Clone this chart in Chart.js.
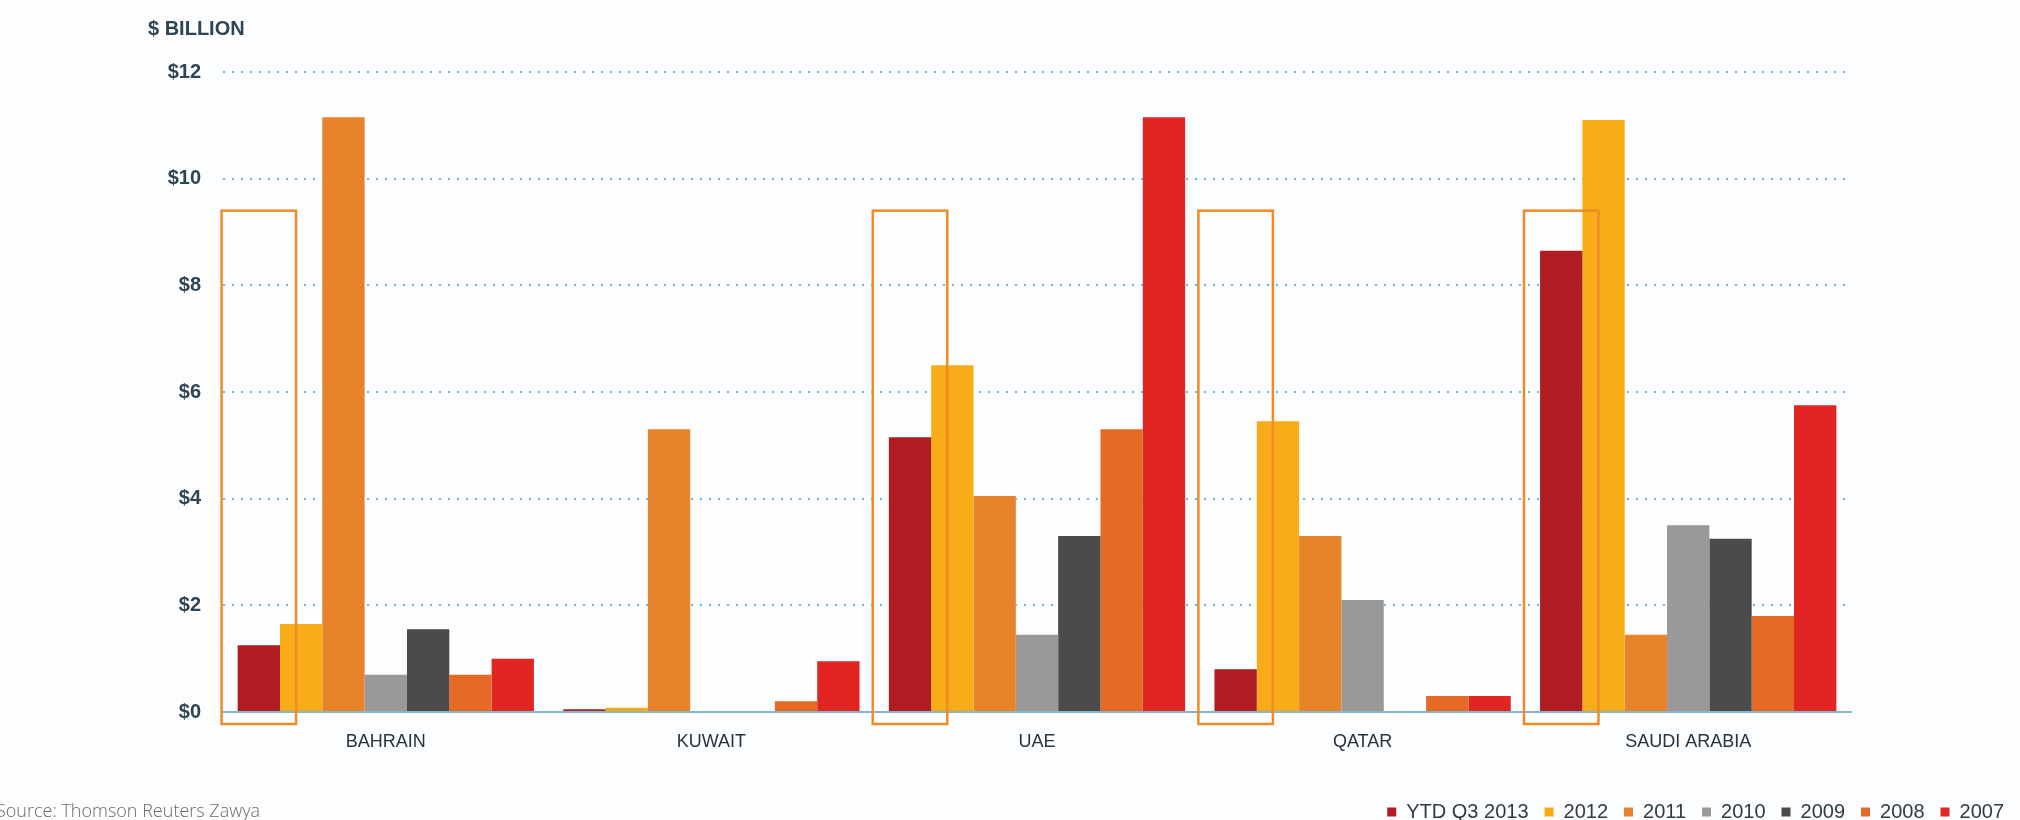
<!DOCTYPE html>
<html>
<head>
<meta charset="utf-8">
<script src="https://cdn.jsdelivr.net/npm/chart.js@4/dist/chart.umd.min.js"></script>
<style>
  html, body { margin: 0; padding: 0; background: #fcfdfe; }
  #wrap { width: 2020px; height: 820px; position: relative; }
</style>
</head>
<body>
<div id="wrap"><canvas id="gccChart" width="2020" height="820"></canvas></div>
<script>
const countries = ["BAHRAIN", "KUWAIT", "UAE", "QATAR", "SAUDI ARABIA"];
const seriesNames = ["YTD Q3 2013", "2012", "2011", "2010", "2009", "2008", "2007"];
const seriesColors = ["#af1c22", "#f8ad18", "#e7832b", "#999999", "#4b4b4b", "#e46a25", "#e12523"];

// $ billion per country, one array per year
const ytdQ3_2013 = [1.25, 0.05, 5.15, 0.8, 8.65];
const y2012 = [1.65, 0.08, 6.5, 5.45, 11.1];
const y2011 = [11.15, 5.3, 4.05, 3.3, 1.45];
const y2010 = [0.7, 0, 1.45, 2.1, 3.5];
const y2009 = [1.55, 0, 3.3, 0, 3.25];
const y2008 = [0.7, 0.2, 5.3, 0.3, 1.8];
const y2007 = [1.0, 0.95, 11.15, 0.3, 5.75];

const yTicks = [0, 2, 4, 6, 8, 10, 12];

// countries whose latest figure gets the outlined box, and the box's top value
const boxedCountries = ["BAHRAIN", "UAE", "QATAR", "SAUDI ARABIA"];
const boxTopValue = 9.4;

const allSeries = [ytdQ3_2013, y2012, y2011, y2010, y2009, y2008, y2007];

const textColor = "#2e4556";
Chart.defaults.font.family = "'Liberation Sans', Arial, Helvetica, sans-serif";

const extras = {
  id: "extras",
  afterLayout(chart) {
    // sit the legend row a little lower, level with the source note
    chart.legend.top += 12;
    chart.legend.bottom += 12;
  },
  beforeDraw(chart) {
    const ctx = chart.ctx;
    ctx.save();
    ctx.fillStyle = "#fcfdfe";
    ctx.fillRect(0, 0, chart.width, chart.height);
    ctx.restore();
  },
  afterDatasetsDraw(chart) {
    const ctx = chart.ctx;
    const yScale = chart.scales.y;
    const meta = chart.getDatasetMeta(0);
    ctx.save();
    ctx.strokeStyle = "#f08c25";
    ctx.lineWidth = 2.5;
    countries.forEach((name, i) => {
      if (!boxedCountries.includes(name)) return;
      const bar = meta.data[i];
      const pad = bar.width * 0.38;
      const left = bar.x - bar.width / 2 - pad;
      const right = bar.x + bar.width / 2 + pad;
      const top = yScale.getPixelForValue(boxTopValue);
      const bottom = chart.chartArea.bottom + 12;
      ctx.strokeRect(left, top, right - left, bottom - top);
    });
    ctx.restore();
  },
  afterDraw(chart) {
    const ctx = chart.ctx;
    ctx.save();
    ctx.fillStyle = textColor;
    ctx.font = "bold 20px 'Liberation Sans', Arial, sans-serif";
    ctx.textBaseline = "middle";
    ctx.fillText("$ BILLION", 148, 29);
    ctx.fillStyle = "#6a6a6a";
    ctx.font = "300 18px 'Open Sans', sans-serif";
    ctx.fillText("Source: Thomson Reuters Zawya", -4, 812);
    ctx.restore();
  },
};

new Chart(document.getElementById("gccChart"), {
  type: "bar",
  data: {
    labels: countries,
    datasets: seriesNames.map((name, i) => ({
      label: name,
      data: allSeries[i],
      backgroundColor: seriesColors[i],
      borderWidth: 0,
      categoryPercentage: 0.91,
      barPercentage: 1.0,
    })),
  },
  options: {
    responsive: false,
    animation: false,
    layout: { padding: { top: 72, left: 0, right: 0, bottom: 0 } },
    plugins: {
      tooltip: { enabled: false },
      legend: {
        position: "bottom",
        align: "end",
        labels: {
          boxWidth: 9,
          boxHeight: 9,
          padding: 16,
          color: "#2d3c46",
          font: { size: 20 },
        },
      },
    },
    scales: {
      x: {
        grid: { display: false, drawTicks: false },
        border: { display: true, color: "#8ab4c8", width: 2 },
        ticks: { color: "#253440", font: { size: 18 }, padding: 19 },
        afterFit: (s) => { s.height = 62; },
      },
      y: {
        min: 0,
        max: 12,
        afterBuildTicks: (s) => { s.ticks = yTicks.map((v) => ({ value: v })); },
        grid: { color: "#6db6dc", lineWidth: 2, drawTicks: false },
        border: { display: false, dash: [2, 7] },
        ticks: {
          color: textColor,
          font: { size: 20, weight: "bold" },
          padding: 22,
          callback: (v) => "$" + v,
        },
        afterFit: (s) => { s.width = 223; },
      },
      yRight: {
        type: "linear",
        position: "right",
        display: true,
        grid: { display: false, drawTicks: false },
        border: { display: false },
        ticks: { display: false },
        afterFit: (s) => { s.width = 169; },
      },
    },
  },
  plugins: [extras],
});
</script>
</body>
</html>
